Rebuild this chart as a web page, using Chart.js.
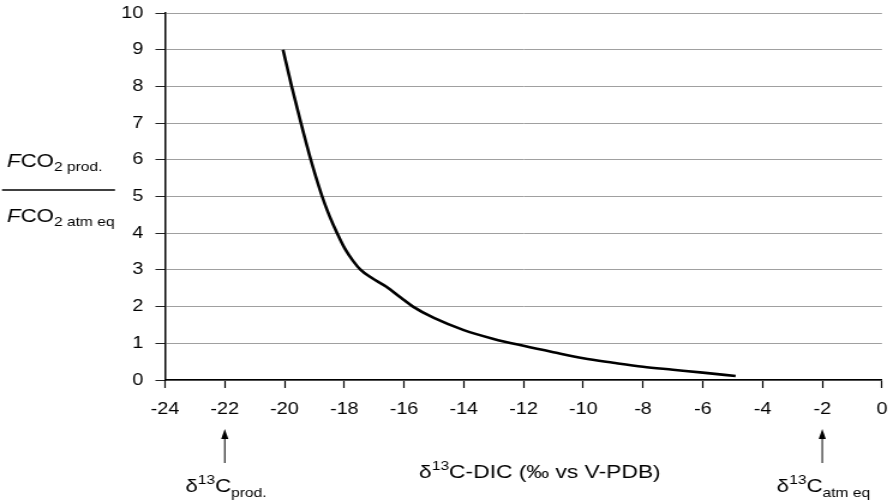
<!DOCTYPE html>
<html>
<head>
<meta charset="utf-8">
<script src="https://cdn.jsdelivr.net/npm/chart.js@4/dist/chart.umd.min.js"></script>
<style>
  html, body { margin: 0; padding: 0; background: #fff; }
  #chart { display: block; }
</style>
</head>
<body>
<!-- the original figure is stretched sideways, so the canvas is drawn narrower and widened by css -->
<canvas id="chart" width="744" height="503" style="width:893px;height:503px"></canvas>
<script>
// curve
const d13C = [-20.05, -19.76, -19.45, -19.12, -18.74, -18.5, -18.25, -17.98, -17.7, -17.45, -17.1, -16.59, -16.1, -15.7, -15, -14, -13, -12, -11, -10, -9, -8, -7, -6, -4.9];
const fluxRatio = [9, 8, 7, 6, 5, 4.48, 4.02, 3.58, 3.24, 3.0, 2.79, 2.54, 2.24, 2.0, 1.69, 1.36, 1.12, 0.93, 0.755, 0.59, 0.47, 0.36, 0.28, 0.2, 0.11];

const xMin = -24, xMax = 0, xStep = 2;
const yMin = 0, yMax = 10, yStep = 1;

// end members marked under the axis
const prodValue = -22;
const atmValue = -2;

const S = 893 / 744;   // horizontal stretch
const FONT = '"Liberation Sans", Arial, sans-serif';

function drawParts(ctx, x, y, parts) {
    // parts: [text, size, dy, italic]
    let cx = x;
    parts.forEach(p => {
        ctx.font = (p[3] ? 'italic ' : '') + p[1] + 'px ' + FONT;
        ctx.fillText(p[0], cx, y + p[2]);
        cx += ctx.measureText(p[0]).width;
    });
}

function measureParts(ctx, parts) {
    let w = 0;
    parts.forEach(p => {
        ctx.font = (p[3] ? 'italic ' : '') + p[1] + 'px ' + FONT;
        w += ctx.measureText(p[0]).width;
    });
    return w;
}

const annotations = {
    id: 'annotations',
    afterDraw(chart) {
        const ctx = chart.ctx;
        const xs = chart.scales.x;
        ctx.save();
        ctx.fillStyle = '#000';
        ctx.strokeStyle = '#000';
        ctx.textBaseline = 'alphabetic';
        ctx.textAlign = 'left';

        // y axis title as a fraction
        drawParts(ctx, 7 / S, 166.5, [['F', 18.5, 0, true], ['CO', 18.5, 0], ['2 prod.', 13, 4]]);
        ctx.lineWidth = 1.3;
        ctx.beginPath();
        ctx.moveTo(2 / S, 190);
        ctx.lineTo(115 / S, 190);
        ctx.stroke();
        drawParts(ctx, 7 / S, 221.5, [['F', 18.5, 0, true], ['CO', 18.5, 0], ['2 atm eq', 13, 4]]);

        // x axis title
        drawParts(ctx, 419 / S, 478, [['δ', 19, 0], ['13', 13, -8], ['C-DIC (‰ vs V-PDB)', 19, 0]]);

        // arrows and labels for the two end members
        [[prodValue, 'prod.'], [atmValue, 'atm eq']].forEach(([v, sub]) => {
            const px = xs.getPixelForValue(v);
            ctx.lineWidth = 1;
            ctx.beginPath();
            ctx.moveTo(px, 463);
            ctx.lineTo(px, 436);
            ctx.stroke();
            ctx.beginPath();
            ctx.moveTo(px, 429);
            ctx.lineTo(px - 3, 439);
            ctx.lineTo(px + 3, 439);
            ctx.closePath();
            ctx.fill();
            const parts = [['δ', 18.5, 0], ['13', 13, -8], ['C', 18.5, 0], [sub, 13, 5]];
            const w = measureParts(ctx, parts);
            drawParts(ctx, px - w / 2 + 1, 492, parts);
        });
        ctx.restore();
    }
};

new Chart(document.getElementById('chart'), {
    type: 'scatter',
    data: {
        datasets: [{
            data: d13C.map((x, i) => ({x: x, y: fluxRatio[i]})),
            showLine: true,
            borderColor: '#000',
            borderWidth: 2.6,
            pointRadius: 0,
            cubicInterpolationMode: 'monotone',
            fill: false
        }]
    },
    options: {
        responsive: false,
        animation: false,
        devicePixelRatio: 1,
        layout: {padding: {top: 13, right: 744 - 882 / S, left: 0, bottom: 0}},
        plugins: {legend: {display: false}, tooltip: {enabled: false}},
        scales: {
            x: {
                type: 'linear',
                min: xMin,
                max: xMax,
                afterFit: s => { s.height = 123; s.paddingLeft = 0; s.paddingRight = 0; },
                ticks: {stepSize: xStep, color: '#000', font: {family: FONT, size: 16.5}, padding: 12, maxRotation: 0},
                grid: {drawOnChartArea: false, drawTicks: true, tickLength: 8, tickColor: '#000', tickWidth: 1.2},
                border: {display: true, color: '#000', width: 1.5}
            },
            y: {
                type: 'linear',
                min: yMin,
                max: yMax,
                afterFit: s => { s.width = 165 / S; s.paddingTop = 0; s.paddingBottom = 0; },
                ticks: {stepSize: yStep, color: '#000', font: {family: FONT, size: 16.5}, padding: 10},
                grid: {color: '#a0a0a0', lineWidth: 1, drawTicks: true, tickLength: 8, tickColor: '#222'},
                border: {display: true, color: '#000', width: 1.5}
            }
        }
    },
    plugins: [annotations]
});
</script>
</body>
</html>
